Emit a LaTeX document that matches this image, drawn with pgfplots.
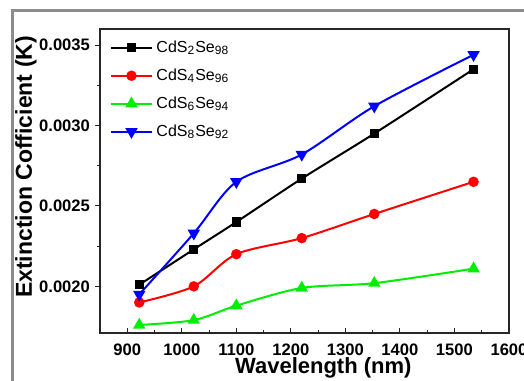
\documentclass[border=0pt]{standalone}
\usepackage{pgfplots}
\pgfplotsset{compat=1.18}
\usepackage{fontspec}
\setmainfont{Liberation Sans}
\definecolor{cblue}{HTML}{0000FF}
\definecolor{cred}{HTML}{FF0000}
\definecolor{cgreen}{HTML}{00EE00}
\definecolor{frame}{HTML}{8C8C8C}
\begin{document}
\begin{tikzpicture}
\begin{axis}[
  scale only axis,
  width=204.5pt, height=152pt,
  xmin=850, xmax=1600,
  ymin=0.00171, ymax=0.0036,
  xtick={900,1000,...,1600},
  ytick={0.0020,0.0025,0.0030,0.0035},
  minor x tick num=1,
  minor y tick num=1,
  tick pos=left,
  tick align=inside,
  major tick length=2.5pt,
  minor tick length=1.5pt,
  every major y tick/.style={xshift=-2.5pt},
  every minor y tick/.style={xshift=-1.5pt},
  axis line style={line width=0.6pt, black!85},
  every tick/.style={line width=0.5pt, black!85},
  scaled y ticks=false,
  /pgf/number format/1000 sep={},
  yticklabel style={/pgf/number format/fixed, /pgf/number format/fixed zerofill, /pgf/number format/precision=4, xshift=-1.5pt},
  /pgf/number format/assume math mode=true,
  tick label style={font=\fontsize{8.3}{10}\selectfont\bfseries},
  xticklabel style={yshift=-2pt},
  xlabel={Wavelength (nm)},
  ylabel={Extinction Cofficient (K)},
  every axis x label/.style={at={(axis description cs:0.546,-0.115)}, anchor=center, font=\fontsize{11}{13}\selectfont\bfseries},
  every axis y label/.style={at={(axis description cs:-0.181,0.546)}, rotate=90, anchor=center, font=\fontsize{11.5}{13}\selectfont\bfseries},
  legend style={at={(axis description cs:0.01,0.99)}, anchor=north west, draw=none, fill=none, font=\fontsize{8}{9.6}\selectfont, row sep=2.7pt},
  legend cell align=left,
  legend image code/.code={\draw[mark repeat=2,mark phase=2] plot coordinates {(0pt,0pt)(10pt,0pt)(20pt,0pt)};},
  every axis plot/.append style={line width=1pt, smooth, tension=0.5},
]
\addplot[black, mark=square*, mark size=1.8pt, mark options={solid}] coordinates {
(922,0.00201) (1022,0.00223) (1100,0.00240) (1220,0.00267) (1353,0.00295) (1535,0.00335)};
\addlegendentry{CdS\textsubscript{2}Se\textsubscript{98}}
\addplot[cred, mark=*, mark size=2.1pt] coordinates {
(922,0.00190) (1022,0.00200) (1100,0.00220) (1220,0.00230) (1353,0.00245) (1535,0.00265)};
\addlegendentry{CdS\textsubscript{4}Se\textsubscript{96}}
\addplot[cgreen, mark=triangle*, mark size=2.6pt] coordinates {
(922,0.00176) (1022,0.00179) (1100,0.00188) (1220,0.00199) (1353,0.00202) (1535,0.00211)};
\addlegendentry{CdS\textsubscript{6}Se\textsubscript{94}}
\addplot[cblue, mark=triangle*, mark size=2.6pt, mark options={rotate=180}] coordinates {
(922,0.00195) (1022,0.00233) (1100,0.00265) (1220,0.00282) (1353,0.00312) (1535,0.00344)};
\addlegendentry{CdS\textsubscript{8}Se\textsubscript{92}}
\end{axis}
\draw[frame, line width=1.5pt] (current axis.south west) ++(-43.75pt,-30pt) -- ++(0,191pt) -- ++(320pt,0);
\pgfresetboundingbox
\useasboundingbox (current axis.south west) ++(-50pt,-23.5pt) rectangle ++(262pt,190pt);
\end{tikzpicture}
\end{document}
